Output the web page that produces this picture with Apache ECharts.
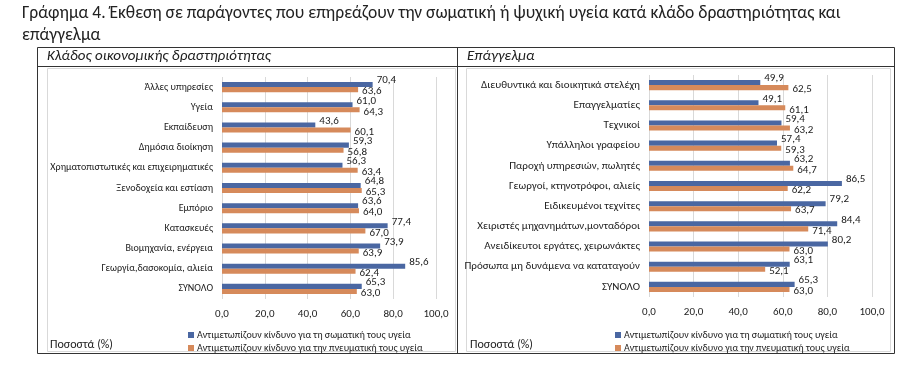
<!DOCTYPE html>
<html>
<head>
<meta charset="utf-8">
<script src="https://cdn.jsdelivr.net/npm/echarts@6/dist/echarts.min.js"></script>
<style>html,body{margin:0;padding:0;background:#fff}#c{width:921px;height:376px}</style>
</head>
<body>
<div id="c"></div>
<script>
var seriesNames = ['Αντιμετωπίζουν κίνδυνο για τη σωματική τους υγεία', 'Αντιμετωπίζουν κίνδυνο για την πνευματική τους υγεία'];
var sectorCats = ['Άλλες υπηρεσίες', 'Υγεία', 'Εκπαίδευση', 'Δημόσια διοίκηση', 'Χρηματοπιστωτικές και επιχειρηματικές', 'Ξενοδοχεία και εστίαση', 'Εμπόριο', 'Κατασκευές', 'Βιομηχανία, ενέργεια', 'Γεωργία,δασοκομία, αλιεία', 'ΣΥΝΟΛΟ'];
var sectorPhysical = [70.4, 61.0, 43.6, 59.3, 56.3, 64.8, 63.6, 77.4, 73.9, 85.6, 65.3];
var sectorMental = [63.6, 64.3, 60.1, 56.8, 63.4, 65.3, 64.0, 67.0, 63.9, 62.4, 63.0];
var occCats = ['Διευθυντικά και διοικητικά στελέχη', 'Επαγγελματίες', 'Τεχνικοί', 'Υπάλληλοι γραφείου', 'Παροχή υπηρεσιών, πωλητές', 'Γεωργοί, κτηνοτρόφοι, αλιείς', 'Ειδικευμένοι τεχνίτες', 'Χειριστές μηχανημάτων,μονταδόροι', 'Ανειδίκευτοι εργάτες, χειρωνάκτες', 'Πρόσωπα μη δυνάμενα να καταταγούν', 'ΣΥΝΟΛΟ'];
var occPhysical = [49.9, 49.1, 59.4, 57.4, 63.2, 86.5, 79.2, 84.4, 80.2, 63.1, 65.3];
var occMental = [62.5, 61.1, 63.2, 59.3, 64.7, 62.2, 63.7, 71.4, 63.0, 52.1, 63.0];
var titleLines = ['Γράφημα 4. Έκθεση σε παράγοντες που επηρεάζουν την σωματική ή ψυχική υγεία κατά κλάδο δραστηριότητας και', 'επάγγελμα'];
var panelTitles = ['Κλάδος οικονομικής δραστηριότητας', 'Επάγγελμα'];
var unitLabel = 'Ποσοστά (%)';

var BLUE = '#4A67A2', ORANGE = '#D68A5B';
var FONT = 'Carlito, "Liberation Sans", sans-serif';
var fmt = function (v) { return v.toFixed(1).replace('.', ','); };

function xAx(gi) {
  return {
    gridIndex: gi, type: 'value', min: 0, max: 100, interval: 20,
    axisLine: { show: false }, axisTick: { show: false },
    splitLine: { show: true, lineStyle: { color: '#D9D9D9', width: 1 } },
    axisLabel: { formatter: fmt, color: '#222', fontFamily: FONT, fontSize: 11, margin: 10 }
  };
}
function yAx(gi, cats, fs) {
  return {
    gridIndex: gi, type: 'category', data: cats, inverse: true,
    axisLine: { show: false }, axisTick: { show: false },
    axisLabel: { color: '#222', fontFamily: FONT, fontSize: fs, margin: 9 }
  };
}
function bar(name, gi, data, color, off) {
  return {
    name: name, type: 'bar', xAxisIndex: gi, yAxisIndex: gi, data: data,
    barGap: '0%', barCategoryGap: '50%',
    itemStyle: { color: color },
    label: { show: true, position: 'right', distance: 4, offset: off, formatter: function (p) { return fmt(p.value); }, color: '#222', fontFamily: FONT, fontSize: 11 },
    emphasis: { disabled: true }
  };
}
function legend(left) {
  return {
    data: seriesNames, orient: 'vertical', left: left, top: 325,
    icon: 'rect', itemWidth: 6, itemHeight: 6, itemGap: 3,
    textStyle: { color: '#222', fontFamily: FONT, fontSize: 10, padding: [0, 0, 0, -2] },
    selectedMode: false
  };
}

var chart = echarts.init(document.getElementById('c'), null, { renderer: 'canvas' });
chart.setOption({
  animation: false,
  textStyle: { fontFamily: FONT },
  grid: [
    { left: 222, right: 485, top: 77, bottom: 77 },
    { left: 649, right: 49, top: 75, bottom: 79 }
  ],
  xAxis: [xAx(0), xAx(1)],
  yAxis: [yAx(0, sectorCats, 10), yAx(1, occCats, 11)],
  legend: [legend(183), legend(610)],
  series: [
    bar(seriesNames[0], 0, sectorPhysical, BLUE, [0, -4]),
    bar(seriesNames[1], 0, sectorMental, ORANGE, [0, 2]),
    bar(seriesNames[0], 1, occPhysical, BLUE, [0, -4]),
    bar(seriesNames[1], 1, occMental, ORANGE, [0, 2])
  ],
  graphic: [
    { type: 'text', left: 22, top: 5, style: { text: titleLines[0], font: '17.5px Carlito, "Liberation Sans", sans-serif', fill: '#222' } },
    { type: 'text', left: 22, top: 27, style: { text: titleLines[1], font: '17.5px Carlito, "Liberation Sans", sans-serif', fill: '#222' } },
    { type: 'rect', shape: { x: 37.5, y: 47.5, width: 857, height: 306 }, style: { fill: 'none', stroke: '#333', lineWidth: 1 }, z: -1 },
    { type: 'line', shape: { x1: 457.5, y1: 47, x2: 457.5, y2: 354 }, style: { stroke: '#333', lineWidth: 1 } },
    { type: 'line', shape: { x1: 37, y1: 66.5, x2: 895, y2: 66.5 }, style: { stroke: '#333', lineWidth: 1 } },
    { type: 'rect', shape: { x: 47.5, y: 68.5, width: 408, height: 283 }, style: { fill: 'none', stroke: '#D9D9D9', lineWidth: 1 }, z: -1 },
    { type: 'rect', shape: { x: 466.5, y: 68.5, width: 424, height: 283 }, style: { fill: 'none', stroke: '#D9D9D9', lineWidth: 1 }, z: -1 },
    { type: 'text', left: 47, top: 49, style: { text: panelTitles[0], font: 'italic 15px Carlito, "Liberation Sans", sans-serif', fill: '#222' } },
    { type: 'text', left: 467, top: 49, style: { text: panelTitles[1], font: 'italic 15px Carlito, "Liberation Sans", sans-serif', fill: '#222' } },
    { type: 'text', left: 50, top: 339, style: { text: unitLabel, font: '12px Carlito, "Liberation Sans", sans-serif', fill: '#222' } },
    { type: 'text', left: 470, top: 339, style: { text: unitLabel, font: '12px Carlito, "Liberation Sans", sans-serif', fill: '#222' } }
  ]
});
</script>
</body>
</html>
